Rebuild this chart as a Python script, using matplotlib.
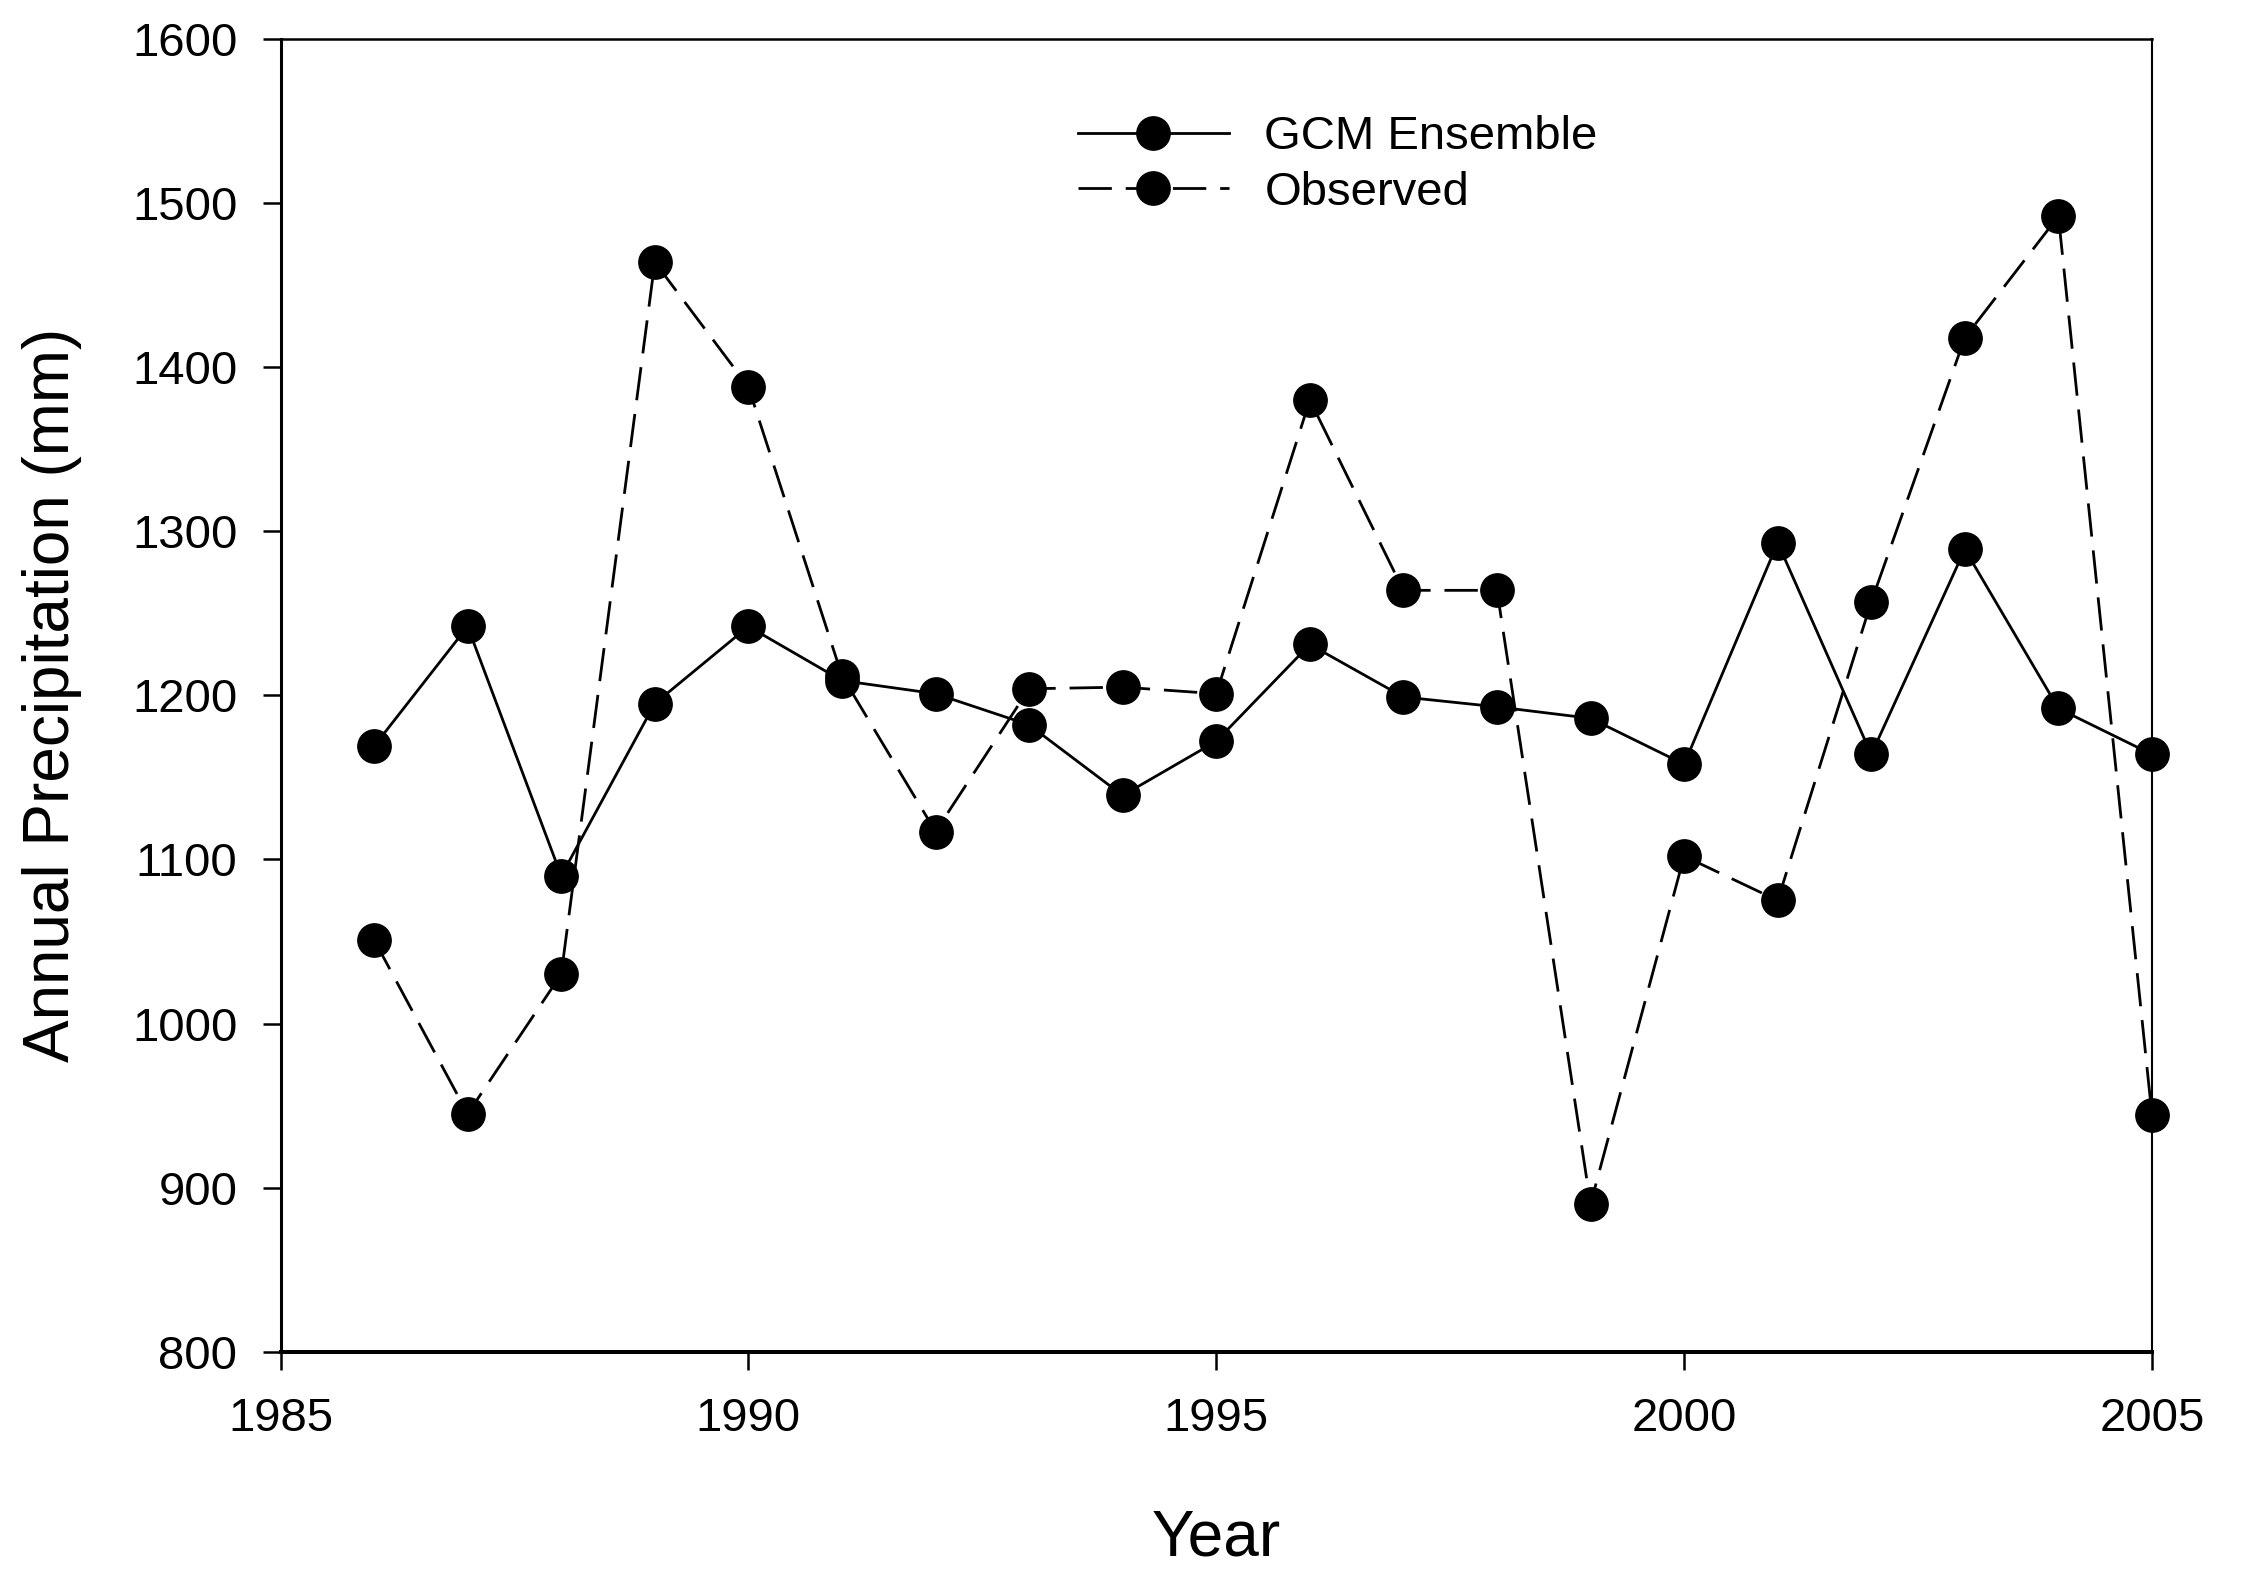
import numpy as np
import matplotlib.pyplot as plt

plt.rcParams['font.family'] = ['Liberation Sans', 'DejaVu Sans']

years = np.arange(1986, 2006)
gcm_ensemble = [1169, 1242, 1090, 1195, 1242, 1209, 1201, 1182, 1139, 1172,
                1231, 1199, 1193, 1186, 1158, 1293, 1164, 1289, 1192, 1164]
observed = [1051, 945, 1030, 1464, 1388, 1212, 1117, 1204, 1205, 1201,
            1380, 1264, 1264, 890, 1102, 1075, 1257, 1418, 1492, 944]

x_ticks = [1985, 1990, 1995, 2000, 2005]
y_ticks = list(range(800, 1700, 100))

fig = plt.figure(figsize=(22.44, 15.93), dpi=100)
ax = fig.add_axes([0.125, 0.1515, 0.834, 0.824])

ax.plot(years, gcm_ensemble, color='black', linewidth=2.0, marker='o',
        markersize=24, label='GCM Ensemble', clip_on=False, zorder=3)
ax.plot(years, observed, color='black', linewidth=2.0, marker='o',
        markersize=24, dashes=(12, 5), label='Observed', clip_on=False,
        zorder=3)

ax.set_xlim(1985, 2005)
ax.set_ylim(800, 1600)
ax.set_xticks(x_ticks)
ax.set_yticks(y_ticks)

ax.tick_params(axis='both', direction='out', length=13, width=1.8,
               labelsize=34, colors='black')
ax.tick_params(axis='x', pad=20)
ax.tick_params(axis='y', pad=18)

ax.spines['left'].set_linewidth(2.2)
ax.spines['bottom'].set_linewidth(2.9)
ax.spines['top'].set_linewidth(1.8)
ax.spines['right'].set_linewidth(1.5)

ax.set_xlabel('Year', fontsize=46, labelpad=48)
ax.set_ylabel('Annual Precipitation (mm)', fontsize=46, labelpad=36)

leg = ax.legend(loc='upper left', bbox_to_anchor=(0.426, 0.942),
                frameon=False, fontsize=34, handlelength=3.2,
                handletextpad=0.75, labelspacing=0.25, numpoints=1,
                borderaxespad=0, borderpad=0)

fig.savefig('out.png', dpi=100)
